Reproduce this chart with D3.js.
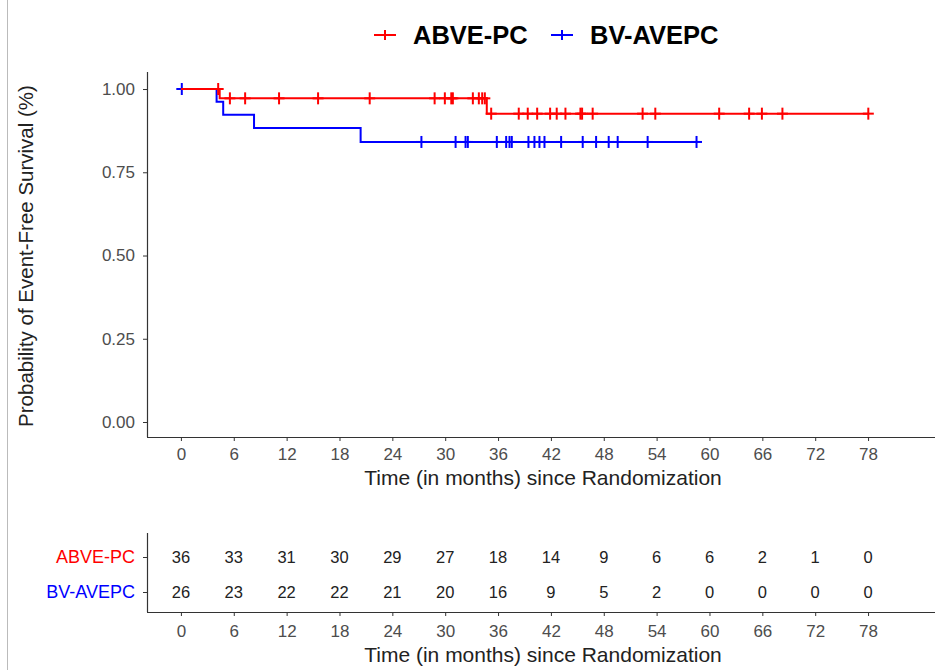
<!DOCTYPE html>
<html>
<head>
<meta charset="utf-8">
<script src="https://cdn.jsdelivr.net/npm/d3@7"></script>
<style>
body { margin: 0; background: #fff; }
svg text { font-family: "Liberation Sans", Arial, sans-serif; }
</style>
</head>
<body>
<div id="container"></div>
<script>
// chart data
var months = [0, 6, 12, 18, 24, 30, 36, 42, 48, 54, 60, 66, 72, 78];
var groups = ["ABVE-PC", "BV-AVEPC"];
var colors = ["#ff0000", "#0000ff"];

// step curves: [time, survival]
var abveSteps = [[0, 1], [4.4, 0.972], [34.72, 0.926], [78.03, 0.926]];
var bvSteps = [[0, 1], [4.05, 0.962], [4.8, 0.923], [8.3, 0.883], [20.4, 0.841], [58.53, 0.841]];

// censor times
var abveCensor = [4.23, 5.56, 7.29, 11.14, 15.57, 21.43, 28.8, 29.96, 30.69, 30.87, 33.14, 33.82, 34.2, 34.5,
  35.22, 38.35, 39.37, 40.44, 41.91, 42.66, 43.65, 45.35, 45.54, 46.74, 52.41, 53.85, 61.1, 64.5, 65.95, 68.28, 78.03];
var bvCensor = [0.1, 27.3, 31.18, 32.31, 32.57, 35.86, 36.92, 37.3, 37.56, 39.45, 40.13, 40.7, 41.27, 43.16,
  45.61, 47.13, 48.56, 49.58, 52.98, 58.53];

// numbers at risk
var abveRisk = [36, 33, 31, 30, 29, 27, 18, 14, 9, 6, 6, 2, 1, 0];
var bvRisk = [26, 23, 22, 22, 21, 20, 16, 9, 5, 2, 0, 0, 0, 0];

var yTicks = [0, 0.25, 0.5, 0.75, 1];

var width = 936, height = 670;
var svg = d3.select("#container").append("svg")
  .attr("width", width).attr("height", height);

// left border line of the screenshot
svg.append("line").attr("x1", 7.5).attr("x2", 7.5).attr("y1", 0).attr("y2", height)
  .attr("stroke", "#bbb").attr("stroke-width", 1);

var x = d3.scaleLinear().domain([-3.85, 85.6]).range([147, 935]);
var y = d3.scaleLinear().domain([-0.0450, 1.0511]).range([437, 72]);

var tickColor = "#4d4d4d";

// ---- legend
var legend = svg.append("g");
var legItems = [{ name: groups[0], col: colors[0], x: 374 }, { name: groups[1], col: colors[1], x: 551 }];
legItems.forEach(function (d) {
  var g = legend.append("g").attr("transform", "translate(" + d.x + ",35)");
  g.append("line").attr("x1", 0).attr("x2", 22).attr("stroke", d.col).attr("stroke-width", 2);
  g.append("line").attr("x1", 11).attr("x2", 11).attr("y1", -5).attr("y2", 5).attr("stroke", d.col).attr("stroke-width", 2);
  g.append("text").attr("x", 39).attr("y", 8.5).attr("font-size", 25.5).attr("font-weight", "bold")
    .attr("fill", "#000").text(d.name);
});

// ---- main panel
var plot = svg.append("g");

var yAxis = plot.append("g").attr("transform", "translate(147,0)")
  .call(d3.axisLeft(y).tickValues(yTicks).tickFormat(d3.format(".2f")).tickSize(4).tickSizeOuter(0));
var xAxis = plot.append("g").attr("transform", "translate(0,437)")
  .call(d3.axisBottom(x).tickValues(months).tickSize(4).tickSizeOuter(0));

[yAxis, xAxis].forEach(function (a) {
  a.select(".domain").attr("stroke", "#333").attr("stroke-width", 1.2);
  a.selectAll(".tick line").attr("stroke", "#333");
  a.selectAll(".tick text").attr("fill", tickColor).attr("font-size", 17).attr("font-family", "Liberation Sans, Arial");
});
yAxis.select(".domain").attr("d", "M0.5,72V437");
xAxis.select(".domain").attr("d", "M147,0.5H935");
yAxis.selectAll(".tick text").attr("x", -12);
xAxis.selectAll(".tick text").attr("y", 11);

plot.append("text").attr("transform", "translate(33,256) rotate(-90)")
  .attr("text-anchor", "middle").attr("font-size", 20.5).attr("fill", "#222")
  .text("Probability of Event-Free Survival (%)");
plot.append("text").attr("x", 543).attr("y", 485).attr("text-anchor", "middle")
  .attr("font-size", 21).attr("fill", "#222")
  .text("Time (in months) since Randomization");

var line = d3.line().x(function (d) { return x(d[0]); }).y(function (d) { return y(d[1]); })
  .curve(d3.curveStepAfter);

function survAt(steps, t) {
  var s = steps[0][1];
  steps.forEach(function (p) { if (p[0] <= t) s = p[1]; });
  return s;
}

var series = [
  { steps: abveSteps, censor: abveCensor, col: colors[0] },
  { steps: bvSteps, censor: bvCensor, col: colors[1] }
];
// blue first, red on top
series.slice().reverse().forEach(function (s) {
  plot.append("path").datum(s.steps).attr("d", line)
    .attr("fill", "none").attr("stroke", s.col).attr("stroke-width", 2);
  var cg = plot.append("g");
  s.censor.forEach(function (t) {
    var cx = x(t), cy = y(survAt(s.steps, t));
    cg.append("line").attr("x1", cx - 5.5).attr("x2", cx + 5.5).attr("y1", cy).attr("y2", cy)
      .attr("stroke", s.col).attr("stroke-width", 2);
    cg.append("line").attr("x1", cx).attr("x2", cx).attr("y1", cy - 6).attr("y2", cy + 6)
      .attr("stroke", s.col).attr("stroke-width", 2);
  });
});

// ---- risk table
var rt = svg.append("g");
var yr = d3.scalePoint().domain(groups).range([557, 592]);
var rtY = rt.append("g").attr("transform", "translate(147,0)")
  .call(d3.axisLeft(yr).tickSize(4).tickSizeOuter(0));
var rtX = rt.append("g").attr("transform", "translate(0,612)")
  .call(d3.axisBottom(x).tickValues(months).tickSize(4).tickSizeOuter(0));
[rtY, rtX].forEach(function (a) {
  a.select(".domain").attr("stroke", "#333").attr("stroke-width", 1.2);
  a.selectAll(".tick line").attr("stroke", "#333");
  a.selectAll(".tick text").attr("font-size", 17).attr("font-family", "Liberation Sans, Arial");
});
rtY.select(".domain").attr("d", "M0.5,533V612");
rtX.select(".domain").attr("d", "M147,0.5H935");
rtY.selectAll(".tick text").attr("x", -12).attr("font-size", 18)
  .attr("fill", function (d, i) { return colors[i]; });
rtX.selectAll(".tick text").attr("fill", tickColor).attr("y", 13);

var riskRows = [abveRisk, bvRisk];
riskRows.forEach(function (row, gi) {
  rt.selectAll(null).data(row).enter().append("text")
    .attr("x", function (d, i) { return x(months[i]); })
    .attr("y", yr(groups[gi]))
    .attr("dy", "0.36em").attr("text-anchor", "middle")
    .attr("font-size", 16.5).attr("fill", "#222")
    .text(function (d) { return d; });
});

rt.append("text").attr("x", 543).attr("y", 662).attr("text-anchor", "middle")
  .attr("font-size", 21).attr("fill", "#222")
  .text("Time (in months) since Randomization");
</script>
</body>
</html>
